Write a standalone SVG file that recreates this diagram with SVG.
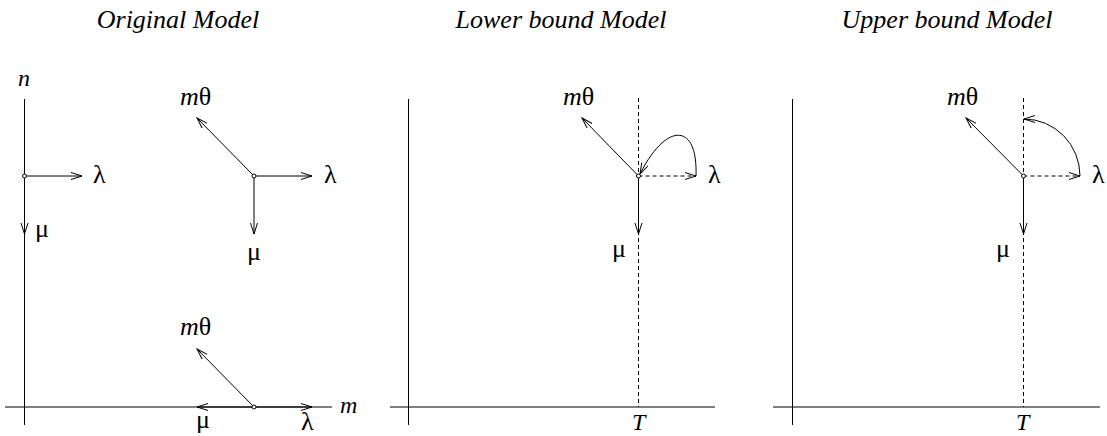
<svg xmlns="http://www.w3.org/2000/svg" width="1107" height="436" viewBox="0 0 1107 436">
<style>
.title{font-family:"Liberation Serif",serif;font-style:italic;font-size:26px;text-anchor:middle;fill:#000}
.lbl{font-family:"Liberation Serif",serif;font-size:26px;fill:#000}
.it{font-style:italic}
.axis{stroke:#000;stroke-width:1;fill:none}
.arr{stroke:#000;stroke-width:1;fill:none;marker-end:url(#ah)}
.dash{stroke-dasharray:4 3}
.dot{fill:#fff;stroke:#000;stroke-width:1}
</style>
<defs>
<marker id="ah" markerUnits="userSpaceOnUse" markerWidth="14" markerHeight="10" refX="11" refY="4" orient="auto">
<path d="M0,0.5 L11,4 L0,7.5" fill="none" stroke="#000" stroke-width="1"/>
</marker>
</defs>

<g id="titles">
<text class="title" x="178" y="28">Original Model</text>
<text class="title" x="561" y="28">Lower bound Model</text>
<text class="title" x="947" y="28">Upper bound Model</text>
</g>

<g id="axes">
<line class="axis" x1="24.5" y1="99" x2="24.5" y2="425"/>
<line class="axis" x1="5" y1="407" x2="332" y2="407"/>
<text class="lbl it" x="18" y="86" style="font-size:24px">n</text>
<text class="lbl it" x="340" y="413" style="font-size:24px">m</text>
<line class="axis" x1="408.5" y1="99" x2="408.5" y2="425"/>
<line class="axis" x1="390" y1="407" x2="715" y2="407"/>
<line class="axis dash" x1="638.5" y1="98" x2="638.5" y2="407"/>
<text class="lbl it" x="632" y="430" style="font-size:24px">T</text>
<line class="axis" x1="792.5" y1="99" x2="792.5" y2="425"/>
<line class="axis" x1="773" y1="407" x2="1100" y2="407"/>
<line class="axis dash" x1="1023.5" y1="98" x2="1023.5" y2="407"/>
<text class="lbl it" x="1016" y="430" style="font-size:24px">T</text>
</g>

<g id="connectors">
<line class="arr" x1="24.5" y1="176" x2="82" y2="176"/>
<line class="arr" x1="24.5" y1="176" x2="24.5" y2="234"/>
<line class="arr" x1="254" y1="176" x2="312" y2="176"/>
<line class="arr" x1="254" y1="176" x2="254" y2="234"/>
<line class="arr" x1="254" y1="176" x2="197" y2="118"/>
<line class="arr" x1="254" y1="407" x2="312" y2="407"/>
<line class="arr" x1="254" y1="407" x2="197" y2="407"/>
<line class="arr" x1="254" y1="407" x2="197" y2="349"/>
<line class="arr dash" x1="638.5" y1="176" x2="696" y2="176"/>
<line class="arr" x1="638.5" y1="176" x2="638.5" y2="234"/>
<line class="arr" x1="638.5" y1="176" x2="582" y2="118"/>
<path class="arr" d="M696,176 C698,122 666,122 640,174"/>
<line class="arr dash" x1="1023.5" y1="176" x2="1080" y2="176"/>
<line class="arr" x1="1023.5" y1="176" x2="1023.5" y2="234"/>
<line class="arr" x1="1023.5" y1="176" x2="966" y2="118"/>
<path class="arr" d="M1080,176 A56,57 0 0 0 1024,119"/>
</g>

<g id="node-orig-boundary">
<circle class="dot" cx="24.5" cy="176" r="2"/>
<text class="lbl" x="93" y="183">λ</text>
<text class="lbl" x="35" y="237">μ</text>
</g>
<g id="node-orig-interior">
<circle class="dot" cx="254" cy="176" r="2"/>
<text class="lbl" x="180" y="105"><tspan class="it">m</tspan>θ</text>
<text class="lbl" x="324" y="183">λ</text>
<text class="lbl" x="247" y="260">μ</text>
</g>
<g id="node-orig-bottom">
<circle class="dot" cx="254" cy="407" r="2"/>
<text class="lbl" x="180" y="335"><tspan class="it">m</tspan>θ</text>
<text class="lbl" x="196" y="428">μ</text>
<text class="lbl" x="301" y="430">λ</text>
</g>
<g id="node-lower">
<circle class="dot" cx="638.5" cy="176" r="2"/>
<text class="lbl" x="563" y="105"><tspan class="it">m</tspan>θ</text>
<text class="lbl" x="708" y="183">λ</text>
<text class="lbl" x="612" y="257">μ</text>
</g>
<g id="node-upper">
<circle class="dot" cx="1023.5" cy="176" r="2"/>
<text class="lbl" x="947" y="105"><tspan class="it">m</tspan>θ</text>
<text class="lbl" x="1092" y="183">λ</text>
<text class="lbl" x="996" y="257">μ</text>
</g>
</svg>
